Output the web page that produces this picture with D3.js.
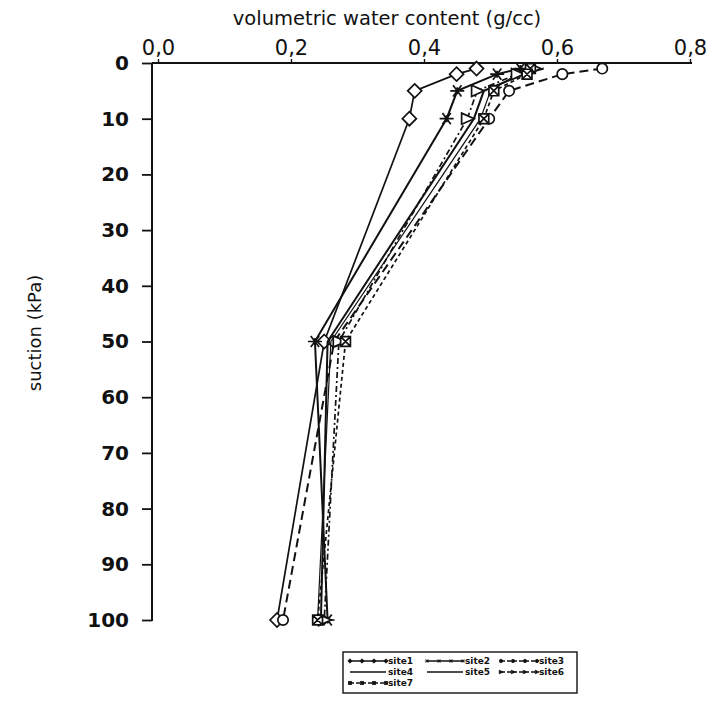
<!DOCTYPE html>
<html>
<head>
<meta charset="utf-8">
<script src="https://cdn.jsdelivr.net/npm/d3@7"></script>
<style>
  body { margin: 0; background: #fff; }
  svg { display: block; }
  text { fill: #111; }
</style>
</head>
<body>
<div id="chart"></div>
<script>
// suction levels (kPa) and water content per site
const suction = [1, 2, 5, 10, 50, 100]
const site1 = [0.479, 0.449, 0.386, 0.378, 0.250, 0.179]
const site2 = [0.545, 0.510, 0.450, 0.434, 0.236, 0.255]
const site3 = [0.668, 0.608, 0.528, 0.498, 0.265, 0.188]
const site4 = [0.580, 0.550, 0.490, 0.475, 0.255, 0.245]
const site5 = [0.570, 0.540, 0.500, 0.485, 0.260, 0.240]
const site6 = [0.565, 0.540, 0.480, 0.465, 0.272, 0.250]
const site7 = [0.560, 0.555, 0.505, 0.490, 0.282, 0.240]
const siteNames = ['site1', 'site2', 'site3', 'site4', 'site5', 'site6', 'site7']
const xTicks = [0, 0.2, 0.4, 0.6, 0.8]
const yTicks = [0, 10, 20, 30, 40, 50, 60, 70, 80, 90, 100]

const series = [
  {name: 'site1', values: site1, marker: 'diamond', dash: null, width: 1.7},
  {name: 'site2', values: site2, marker: 'asterisk', dash: null, width: 2},
  {name: 'site3', values: site3, marker: 'circle', dash: '9,5', width: 2},
  {name: 'site4', values: site4, marker: null, dash: null, width: 2},
  {name: 'site5', values: site5, marker: null, dash: null, width: 1.2},
  {name: 'site6', values: site6, marker: 'triangle', dash: '6,3,2,3', width: 1.7},
  {name: 'site7', values: site7, marker: 'box', dash: '4,3', width: 1.7}
]

const svgWidth = 710
const svgHeight = 701
const ink = '#111'

const svg = d3.select('#chart').append('svg')
  .attr('width', svgWidth)
  .attr('height', svgHeight)
  .attr('viewBox', '0 0 ' + svgWidth + ' ' + svgHeight)

const x = d3.scaleLinear().domain([0, 0.8]).range([158, 690])
const y = d3.scaleLinear().domain([0, 100]).range([63, 620])
const axisX = 152

// top axis
const xAxis = d3.axisTop(x)
  .tickValues(xTicks)
  .tickSize(4)
  .tickPadding(4)
  .tickFormat(d => d3.format('.1f')(d).replace('.', ','))

const gx = svg.append('g')
  .attr('transform', 'translate(0,' + y(0) + ')')
  .call(xAxis)
gx.select('.domain').remove()
gx.selectAll('line').attr('stroke', ink).attr('stroke-width', 1.4)
gx.selectAll('text')
  .attr('font-family', 'DejaVu Sans, sans-serif')
  .attr('font-size', 21)
  .attr('fill', ink)

svg.append('line')
  .attr('x1', axisX).attr('x2', x(0.8) + 2)
  .attr('y1', y(0)).attr('y2', y(0))
  .attr('stroke', ink).attr('stroke-width', 2)

// left axis
const yAxis = d3.axisLeft(y)
  .tickValues(yTicks)
  .tickSize(10)
  .tickPadding(13)

const gy = svg.append('g')
  .attr('transform', 'translate(' + axisX + ',0)')
  .call(yAxis)
gy.select('.domain').remove()
gy.selectAll('line').attr('stroke', ink).attr('stroke-width', 1.8)
gy.selectAll('text')
  .attr('font-family', 'DejaVu Sans, sans-serif')
  .attr('font-weight', 'bold')
  .attr('font-size', 20)
  .attr('fill', ink)

svg.append('line')
  .attr('x1', axisX).attr('x2', axisX)
  .attr('y1', y(0)).attr('y2', y(100) + 1)
  .attr('stroke', ink).attr('stroke-width', 2)

// axis titles
svg.append('text')
  .attr('x', 387)
  .attr('y', 25)
  .attr('text-anchor', 'middle')
  .attr('font-family', 'DejaVu Sans, sans-serif')
  .attr('font-size', 19.5)
  .text('volumetric water content (g/cc)')

svg.append('text')
  .attr('transform', 'translate(41,' + 333 + ') rotate(-90)')
  .attr('text-anchor', 'middle')
  .attr('font-family', 'DejaVu Sans, sans-serif')
  .attr('font-size', 18)
  .text('suction (kPa)')

// markers
function markerPath(type, s) {
  switch (type) {
    case 'diamond':
      return 'M0,' + -s + 'L' + s + ',0L0,' + s + 'L' + -s + ',0Z'
    case 'circle':
      return d3.symbol(d3.symbolCircle, Math.PI * s * s * 0.55)()
    case 'triangle':
      return 'M' + -s * 0.8 + ',' + -s * 0.8 + 'L' + s + ',0L' + -s * 0.8 + ',' + s * 0.8 + 'Z'
    case 'asterisk':
      return 'M' + -s + ',0H' + s +
        'M' + -s * 0.6 + ',' + -s * 0.8 + 'L' + s * 0.6 + ',' + s * 0.8 +
        'M' + s * 0.6 + ',' + -s * 0.8 + 'L' + -s * 0.6 + ',' + s * 0.8 +
        'M0,' + -s * 0.5 + 'V' + s * 0.5
    case 'box':
      return 'M' + -s * 0.7 + ',' + -s * 0.7 + 'h' + s * 1.4 + 'v' + s * 1.4 + 'h' + -s * 1.4 + 'Z' +
        'M' + -s * 0.7 + ',' + -s * 0.7 + 'L' + s * 0.7 + ',' + s * 0.7 +
        'M' + s * 0.7 + ',' + -s * 0.7 + 'L' + -s * 0.7 + ',' + s * 0.7
    default:
      return ''
  }
}

const line = d3.line()
  .x(d => x(d.v))
  .y(d => y(d.s))

const plot = svg.append('g')

series.forEach(sr => {
  const pts = sr.values.map((v, i) => ({v: v, s: suction[i]}))
  plot.append('path')
    .datum(pts)
    .attr('fill', 'none')
    .attr('stroke', ink)
    .attr('stroke-width', sr.width)
    .attr('stroke-dasharray', sr.dash)
    .attr('d', line)

  if (sr.marker) {
    plot.selectAll('.m-' + sr.name)
      .data(pts)
      .enter().append('path')
      .attr('class', 'm-' + sr.name)
      .attr('transform', d => 'translate(' + x(d.v) + ',' + y(d.s) + ')')
      .attr('d', markerPath(sr.marker, 7))
      .attr('fill', sr.marker === 'asterisk' ? 'none' : '#fff')
      .attr('stroke', ink)
      .attr('stroke-width', 1.7)
  }
})

// legend
const legend = svg.append('g')
  .attr('transform', 'translate(343,652)')

legend.append('rect')
  .attr('width', 234)
  .attr('height', 41)
  .attr('fill', '#fff')
  .attr('stroke', ink)
  .attr('stroke-width', 1.4)

const cols = [7, 84, 158]
series.forEach((sr, i) => {
  const cx = cols[i % 3]
  const cy = 9 + Math.floor(i / 3) * 11
  const item = legend.append('g')
    .attr('transform', 'translate(' + cx + ',' + cy + ')')
  item.append('line')
    .attr('x1', 0).attr('x2', 36)
    .attr('stroke', ink)
    .attr('stroke-width', 1.5)
    .attr('stroke-dasharray', sr.dash ? '4,2' : null)
  if (sr.marker) {
    [0, 12, 24, 36].forEach(mx => {
      item.append('path')
        .attr('transform', 'translate(' + mx + ',0)')
        .attr('d', markerPath(sr.marker, 2.2))
        .attr('fill', ink)
        .attr('stroke', ink)
        .attr('stroke-width', 0.8)
    })
  }
  item.append('text')
    .attr('x', 38)
    .attr('y', 3)
    .attr('font-family', 'DejaVu Sans, sans-serif')
    .attr('font-size', 9)
    .attr('font-weight', 'bold')
    .text(siteNames[i])
})
</script>
</body>
</html>
